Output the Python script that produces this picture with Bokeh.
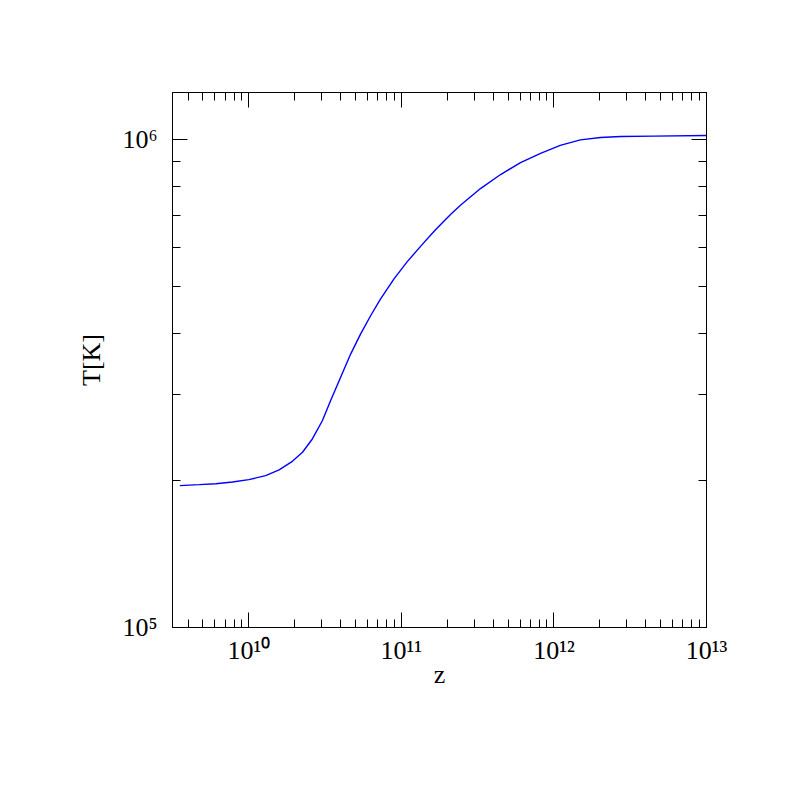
import numpy as np
from bokeh.plotting import figure
from bokeh.models import LogAxis, FixedTicker, Range1d
from bokeh.embed import file_html
from bokeh.resources import INLINE

# ---- data ----
z_values = [3.53e9, 4.73e9, 6.08e9, 7.82e9, 1.00e10, 1.29e10, 1.58e10, 1.93e10,
            2.25e10, 2.61e10, 3.04e10, 3.44e10, 4.00e10, 4.66e10, 5.41e10, 6.30e10,
            7.31e10, 8.95e10, 1.09e11, 1.34e11, 1.64e11, 1.81e11, 2.10e11, 2.44e11,
            3.30e11, 4.47e11, 6.04e11, 8.17e11, 1.10e12, 1.49e12, 2.02e12, 2.73e12,
            4.51e12, 1.0e13]
T_values = [1.953e5, 1.962e5, 1.971e5, 1.987e5, 2.009e5, 2.047e5, 2.103e5, 2.190e5,
            2.286e5, 2.434e5, 2.655e5, 2.917e5, 3.256e5, 3.637e5, 3.997e5, 4.358e5,
            4.713e5, 5.181e5, 5.613e5, 6.045e5, 6.485e5, 6.697e5, 7.020e5, 7.332e5,
            7.932e5, 8.475e5, 8.967e5, 9.368e5, 9.727e5, 9.979e5, 1.009e6, 1.014e6,
            1.016e6, 1.019e6]

x_major = [1e10, 1e11, 1e12, 1e13]
x_tick_labels = ["10¹⁰", "10¹¹", "10¹²", "10¹³"]
y_major = [1e5, 1e6]
y_tick_labels = ["10⁵", "10⁶"]

x_min, x_max = 10 ** 9.5, 1e13
y_min, y_max = 1e5, 1.248e6

FONT = "Liberation Serif"


def minor_ticks(lo, hi, d0, d1):
    out = []
    for d in range(d0, d1 + 1):
        for m in range(2, 10):
            v = m * 10.0 ** d
            if lo <= v <= hi:
                out.append(v)
    return out


x_minor = minor_ticks(x_min, x_max, 9, 12)
y_minor = minor_ticks(y_min, y_max, 5, 6)

p = figure(width=781, height=781, x_axis_type="log", y_axis_type="log",
           x_range=Range1d(x_min, x_max), y_range=Range1d(y_min, y_max),
           output_backend="svg", toolbar_location=None,
           min_border_left=172, min_border_right=75,
           min_border_top=92, min_border_bottom=154)

p.line(z_values, T_values, line_color="#0000ff", line_width=1.4)

p.grid.visible = False
p.outline_line_color = "black"
p.outline_line_width = 1
p.background_fill_color = "white"
p.border_fill_color = "white"


def style_axis(ax, ticks, minors, labels, show):
    ax.ticker = FixedTicker(ticks=ticks, minor_ticks=minors)
    ax.major_tick_in = 15
    ax.major_tick_out = 0
    ax.minor_tick_in = 8
    ax.minor_tick_out = 0
    ax.axis_line_color = "black"
    ax.major_tick_line_color = "black"
    ax.minor_tick_line_color = "black"
    ax.major_label_text_font = FONT
    ax.major_label_text_font_size = "26px"
    ax.major_label_text_color = "black"
    if show:
        ax.major_label_overrides = {t: s for t, s in zip(ticks, labels)}
    else:
        ax.major_label_overrides = {t: "" for t in ticks}


bottom_axis = p.xaxis[0]
left_axis = p.yaxis[0]

style_axis(bottom_axis, x_major, x_minor, x_tick_labels, True)
style_axis(left_axis, y_major, y_minor, y_tick_labels, True)
bottom_axis.major_label_standoff = 8
left_axis.major_label_standoff = 15

top_axis = LogAxis()
right_axis = LogAxis()
style_axis(top_axis, x_major, x_minor, x_tick_labels, False)
style_axis(right_axis, y_major, y_minor, y_tick_labels, False)
p.add_layout(top_axis, "above")
p.add_layout(right_axis, "right")

bottom_axis.axis_label = "z"
left_axis.axis_label = "T[K]"
for ax in (bottom_axis, left_axis):
    ax.axis_label_text_font = FONT
    ax.axis_label_text_font_size = "26px"
    ax.axis_label_text_font_style = "normal"
    ax.axis_label_text_color = "black"
bottom_axis.axis_label_standoff = -8
left_axis.axis_label_standoff = 13

open("out.html", "w").write(file_html(p, INLINE))
